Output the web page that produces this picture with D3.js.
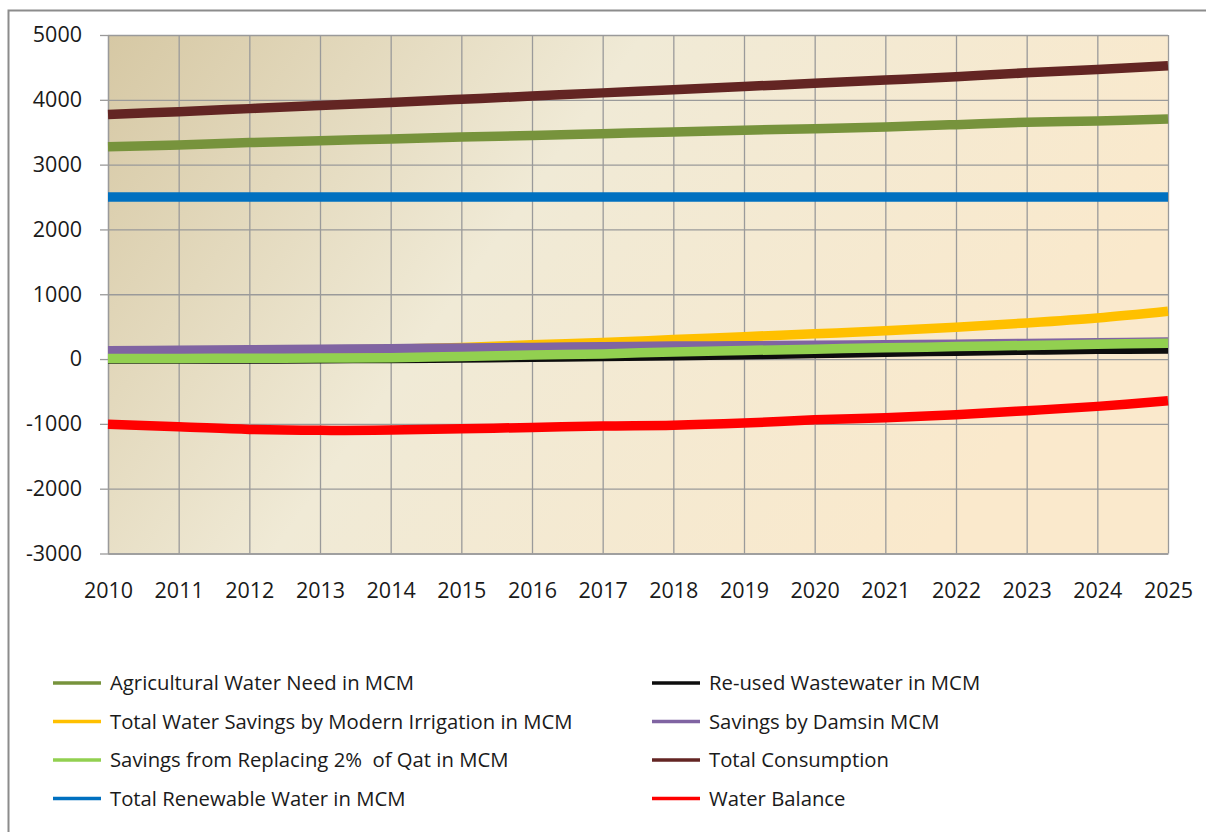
<!DOCTYPE html>
<html>
<head>
<meta charset="utf-8">
<script src="https://cdn.jsdelivr.net/npm/d3@7"></script>
<style>
  body { margin: 0; background: #fff; }
  svg { display: block; font-family: "Open Sans", Lato, sans-serif; }
</style>
</head>
<body>
<svg id="chart" width="1206" height="832"></svg>
<script>
// years on the x axis
const years = [2010, 2011, 2012, 2013, 2014, 2015, 2016, 2017, 2018, 2019, 2020, 2021, 2022, 2023, 2024, 2025];
const yTicks = [5000, 4000, 3000, 2000, 1000, 0, -1000, -2000, -3000];

// series values (MCM)
const agricultural = [3275, 3304, 3340, 3370, 3395, 3425, 3450, 3478, 3505, 3530, 3555, 3582, 3617, 3654, 3674, 3705];
const reusedWastewater = [0, 0, 0, 5, 10, 18, 28, 40, 52, 67, 85, 105, 122, 138, 150, 155];
const modernIrrigation = [115, 120, 125, 135, 150, 178, 220, 255, 300, 345, 390, 435, 492, 557, 634, 737];
const dams = [128, 135, 143, 150, 160, 170, 180, 190, 200, 205, 212, 220, 230, 240, 250, 263];
const qat = [10, 10, 12, 15, 22, 40, 62, 80, 110, 132, 153, 173, 192, 210, 228, 245];
const totalConsumption = [3775, 3817, 3864, 3912, 3960, 4008, 4057, 4107, 4155, 4205, 4255, 4305, 4357, 4417, 4468, 4525];
const renewable = [2500, 2500, 2500, 2500, 2500, 2500, 2500, 2500, 2500, 2500, 2500, 2500, 2500, 2500, 2500, 2500];
const waterBalance = [-1007, -1043, -1085, -1100, -1094, -1074, -1056, -1033, -1021, -987, -938, -905, -859, -797, -730, -643];

const seriesNames = [
  "Agricultural Water Need in MCM",
  "Re-used Wastewater in MCM",
  "Total Water Savings by Modern Irrigation in MCM",
  "Savings by Damsin MCM",
  "Savings from Replacing 2%  of Qat in MCM",
  "Total Consumption",
  "Total Renewable Water in MCM",
  "Water Balance"
];
const seriesValues = [agricultural, reusedWastewater, modernIrrigation, dams, qat, totalConsumption, renewable, waterBalance];
const seriesColors = ["#77933C", "#0D0D0D", "#FFC000", "#8064A2", "#92D050", "#632523", "#0070C0", "#FF0000"];

const series = seriesNames.map((name, i) => ({
  name,
  color: seriesColors[i],
  values: years.map((yr, j) => ({ year: yr, value: seriesValues[i][j] }))
}));

const svg = d3.select("#chart");
const plotLeft = 108, plotRight = 1168, plotTop = 35, plotBottom = 553.5;

// outer frame (only top and left edges fall inside the picture)
svg.append("rect")
  .attr("x", 8.5).attr("y", 10.5)
  .attr("width", 1220).attr("height", 840)
  .attr("fill", "none")
  .attr("stroke", "#8c8c8c")
  .attr("stroke-width", 2);

const x = d3.scaleLinear().domain([2010, 2025]).range([plotLeft, plotRight]);
const y = d3.scaleLinear().domain([-3000, 5000]).range([plotBottom, plotTop]);

// plot area background
const defs = svg.append("defs");
const grad = defs.append("linearGradient")
  .attr("id", "bg")
  .attr("x1", 0).attr("y1", 0).attr("x2", 1).attr("y2", 0.35);
grad.append("stop").attr("offset", 0).attr("stop-color", "#D6C8A4");
grad.append("stop").attr("offset", 0.45).attr("stop-color", "#F0EAD6");
grad.append("stop").attr("offset", 1).attr("stop-color", "#FAE9CC");

svg.append("rect")
  .attr("x", plotLeft).attr("y", plotTop)
  .attr("width", plotRight - plotLeft).attr("height", plotBottom - plotTop)
  .attr("fill", "url(#bg)");

// horizontal gridlines
const yGrid = svg.append("g")
  .attr("transform", `translate(${plotLeft},0)`)
  .call(d3.axisLeft(y).tickValues(yTicks).tickSize(-(plotRight - plotLeft)).tickSizeOuter(0).tickFormat(""));
yGrid.select(".domain").remove();
yGrid.selectAll(".tick line").attr("stroke", "#9a9a9a").attr("stroke-width", 1.3);

// y tick stubs and labels (plain hyphen for negatives, like the original)
const yLabels = svg.append("g")
  .attr("transform", `translate(${plotLeft},0)`)
  .call(d3.axisLeft(y).tickValues(yTicks).tickSize(8).tickPadding(18).tickSizeOuter(0)
    .tickFormat(d => String(d)));
yLabels.select(".domain").attr("stroke", "#9a9a9a").attr("stroke-width", 1.3);
yLabels.selectAll(".tick line").attr("stroke", "#9a9a9a").attr("stroke-width", 1.3);
yLabels.selectAll("text").attr("font-size", 21.5).attr("fill", "#1a1a1a")
  .attr("font-family", "'Open Sans', Lato, sans-serif");

// vertical gridlines + year labels
const xAxis = svg.append("g")
  .attr("transform", `translate(0,${plotBottom})`)
  .call(d3.axisBottom(x).tickValues(years).tickSize(-(plotBottom - plotTop)).tickSizeOuter(0)
    .tickFormat(d => String(d)).tickPadding(29));
xAxis.select(".domain").attr("stroke", "#9a9a9a").attr("stroke-width", 1.3);
xAxis.selectAll(".tick line").attr("stroke", "#9a9a9a").attr("stroke-width", 1.3);
xAxis.selectAll("text").attr("font-size", 21.5).attr("fill", "#1a1a1a")
  .attr("font-family", "'Open Sans', Lato, sans-serif");

// the lines, drawn in series order like Excel does
const line = d3.line()
  .x(d => x(d.year))
  .y(d => y(d.value))
  .curve(d3.curveCardinal.tension(0));

svg.append("g")
  .selectAll("path")
  .data(series)
  .join("path")
  .attr("d", d => line(d.values))
  .attr("fill", "none")
  .attr("stroke", d => d.color)
  .attr("stroke-width", 9.5)
  .attr("stroke-linejoin", "round");

// legend: two columns, filled row by row
const legend = svg.append("g")
  .selectAll("g")
  .data(series)
  .join("g")
  .attr("transform", (d, i) => `translate(${i % 2 === 0 ? 53 : 652},${683 + Math.floor(i / 2) * 38.5})`);

legend.append("line")
  .attr("x1", 0).attr("x2", 48)
  .attr("stroke", d => d.color)
  .attr("stroke-width", 3.5);

legend.append("text")
  .attr("x", 57)
  .attr("dy", "0.35em")
  .attr("font-size", 20.3)
  .attr("fill", "#1a1a1a")
  .style("white-space", "pre")
  .text(d => d.name);
</script>
</body>
</html>
